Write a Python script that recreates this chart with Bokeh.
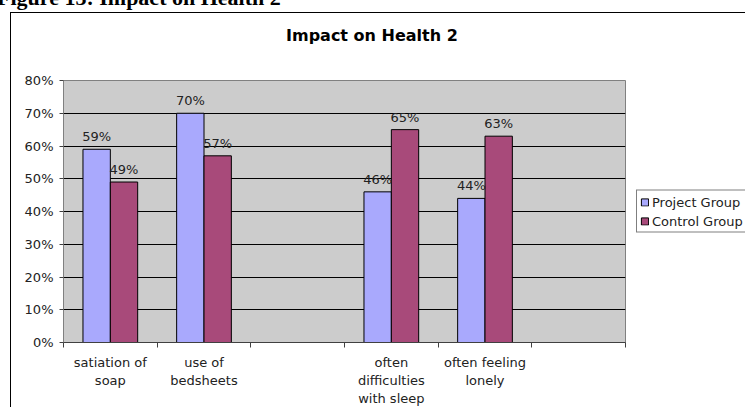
from bokeh.plotting import figure
from bokeh.models import (ColumnDataSource, Range1d, FixedTicker, NumeralTickFormatter,
                          LabelSet, Legend, LegendItem, Div)
from bokeh.layouts import column
from bokeh.core.properties import value
from bokeh.embed import file_html
from bokeh.resources import INLINE
import math

caption = "Figure 13: Impact on Health 2"
categories = ["satiation of\nsoap", "use of\nbedsheets", "", "often\ndifficulties\nwith sleep",
              "often feeling\nlonely", ""]
project_group = [0.59, 0.70, float("nan"), 0.46, 0.44, float("nan")]
control_group = [0.49, 0.57, float("nan"), 0.65, 0.63, float("nan")]
y_ticks = [0, 0.1, 0.2, 0.3, 0.4, 0.5, 0.6, 0.7, 0.8]
title_text = "Impact on Health 2"
series_names = ["Project Group", "Control Group"]

FONT = "DejaVu Sans"
n = len(categories)
centers = [i + 0.5 for i in range(n)]
bw = 0.292

def lab(v):
    return "" if math.isnan(v) else f"{round(v * 100)}%"

src_p = ColumnDataSource(dict(x=[c - bw / 2 for c in centers], top=project_group,
                              lab=[lab(v) for v in project_group]))
src_c = ColumnDataSource(dict(x=[c + bw / 2 for c in centers], top=control_group,
                              lab=[lab(v) for v in control_group]))

p = figure(frame_width=561, frame_height=261, output_backend="svg", toolbar_location=None,
           x_range=Range1d(0, n), y_range=Range1d(0, 0.8),
           min_border_left=52, min_border_right=119, min_border_top=67, min_border_bottom=64)
p.styles = {"margin-left": "10px", "margin-top": "-4px",
            "border-left": "1px solid black", "border-top": "1px solid black"}
p.background_fill_color = "#cccccc"
p.border_fill_color = "white"
p.border_fill_alpha = 0
p.outline_line_color = "#808080"
p.outline_line_width = 1
p.title.text = ""
p.title.standoff = 0

rp = p.vbar(x="x", top="top", width=bw, bottom=0, source=src_p,
            fill_color="#a9a9fd", line_color="black", line_width=1)
rc = p.vbar(x="x", top="top", width=bw, bottom=0, source=src_c,
            fill_color="#a84a7a", line_color="black", line_width=1)

for s in (src_p, src_c):
    p.add_layout(LabelSet(x="x", y="top", text="lab", source=s, text_align="center",
                          text_baseline="bottom", y_offset=5, text_font=value(FONT),
                          text_font_size=value("13px"), text_color="#222222"))

# y axis
p.yaxis.ticker = FixedTicker(ticks=y_ticks, minor_ticks=[])
p.yaxis.formatter = NumeralTickFormatter(format="0%")
p.yaxis.major_label_text_font = FONT
p.yaxis.major_label_text_font_size = "13px"
p.yaxis.major_label_text_color = "#222222"
p.yaxis.major_tick_out = 4
p.yaxis.major_tick_in = 0
p.yaxis.major_label_standoff = 6
p.yaxis.axis_line_color = "#808080"
p.yaxis.major_tick_line_color = "#404040"

# x axis: labels at centres, ticks at category boundaries
p.xaxis.ticker = FixedTicker(ticks=centers, minor_ticks=list(range(n + 1)))
p.xaxis.major_label_overrides = {c: categories[i] for i, c in enumerate(centers)}
p.xaxis.major_label_text_font = FONT
p.xaxis.major_label_text_font_size = "13px"
p.xaxis.major_label_text_color = "#222222"
p.xaxis.major_tick_out = 0
p.xaxis.major_tick_in = 0
p.xaxis.minor_tick_out = 5
p.xaxis.minor_tick_in = 0
p.xaxis.minor_tick_line_color = "#404040"
p.xaxis.major_label_standoff = 7
p.xaxis.axis_line_color = "#404040"

p.xgrid.grid_line_color = None
p.ygrid.ticker = FixedTicker(ticks=y_ticks)
p.ygrid.grid_line_color = "black"
p.ygrid.grid_line_width = 1

legend = Legend(items=[LegendItem(label=series_names[0], renderers=[rp]),
                       LegendItem(label=series_names[1], renderers=[rc])],
                location="center_left", orientation="vertical",
                label_text_font=FONT, label_text_font_size="13px",
                label_text_color="#222222", glyph_width=9, glyph_height=9,
                label_standoff=3, spacing=3, padding=3, label_height=16, margin=11,
                border_line_color="black", border_line_width=1,
                background_fill_color="white", background_fill_alpha=1)
p.add_layout(legend, "right")

cap = Div(text=(
    "<div style=\"position:relative; width:740px; height:6px;\">"
    "<div style=\"position:absolute; top:-26px; left:-8px; white-space:nowrap; "
    f"font: bold 22px 'Liberation Serif'; color:black\">{caption}</div>"
    "<div style=\"position:absolute; top:15px; left:281px; white-space:nowrap; z-index:10; "
    f"font: bold 16px 'DejaVu Sans'; color:black\">{title_text}</div>"
    "</div>"),
    width=740, height=6, styles={"overflow": "visible", "z-index": "10"})

layout = column(cap, p, spacing=0)
open("out.html", "w").write(file_html(layout, INLINE))
